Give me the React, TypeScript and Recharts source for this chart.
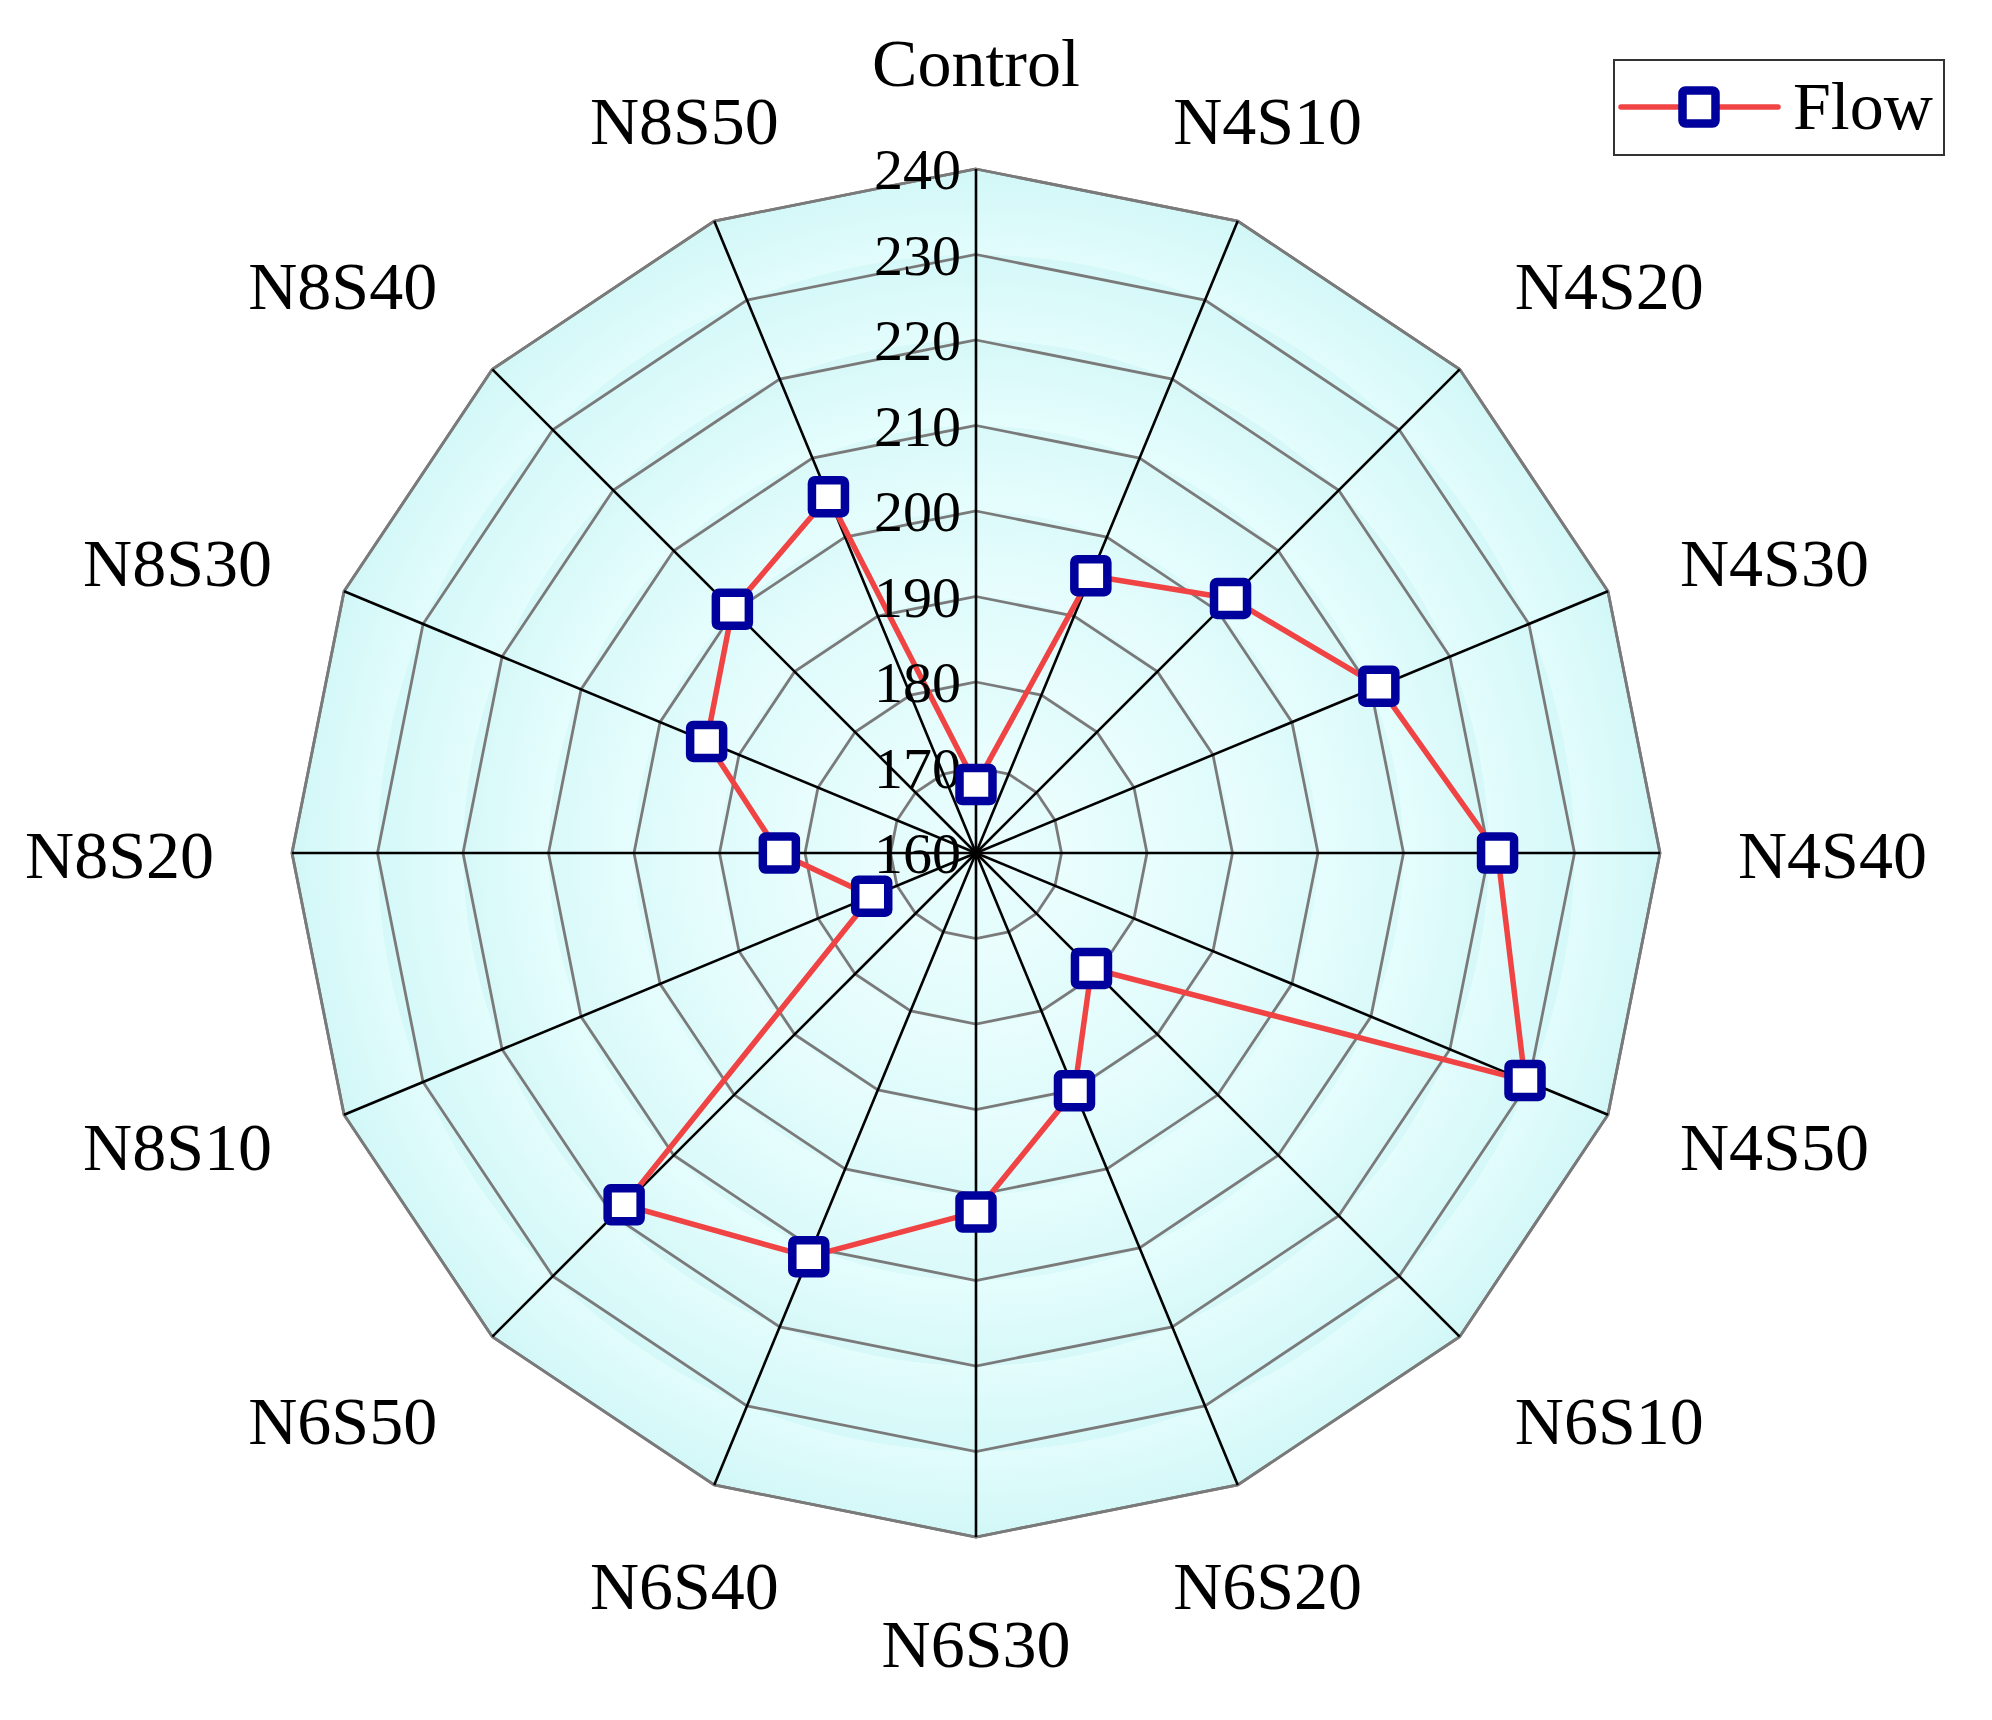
import { RadarChart, Radar, PolarGrid, PolarAngleAxis, PolarRadiusAxis, Legend } from 'recharts';

// treatments around the radar, clockwise from the top
const categories = [
  'Control', 'N4S10', 'N4S20', 'N4S30', 'N4S40', 'N4S50',
  'N6S10', 'N6S20', 'N6S30', 'N6S40', 'N6S50',
  'N8S10', 'N8S20', 'N8S30', 'N8S40', 'N8S50',
];
const flow = [168.0, 195.1, 202.1, 211.0, 221.0, 229.5, 179.1, 190.1, 202.0, 211.1, 218.2, 173.2, 183.0, 194.1, 200.3, 205.1];
const radiusTicks = [160, 170, 180, 190, 200, 210, 220, 230, 240];

const data = categories.map((name, i) => ({ name, flow: flow[i] }));

const W = 1976;
const H = 1704;
const CX = 968;
const CY = 845;
const R = 684;
const FONT = "'Liberation Serif', 'Times New Roman', serif";
const RED = '#F04444';
const BLUE = '#00009C';

// light cyan bands, each a bit darker toward its outer ring
const bandStops = () => {
  const out: any[] = [];
  const n = radiusTicks.length - 1;
  for (let i = 0; i < n; i++) {
    const t = i / (n - 1);
    const mix = (a: number, b: number) => Math.round(a + (b - a) * t);
    const inner = `rgb(${mix(236, 226)},${mix(254, 252)},${mix(254, 252)})`;
    const outer = `rgb(${mix(228, 210)},${mix(252, 247)},${mix(252, 247)})`;
    out.push(<stop key={`a${i}`} offset={i / n} stopColor={inner} />);
    out.push(<stop key={`b${i}`} offset={(i + 1) / n - 0.001} stopColor={outer} />);
  }
  return out;
};

function AngleTick(props: any) {
  const { payload } = props;
  const rad = (payload.coordinate * Math.PI) / 180;
  const r = R + 78;
  const c = Math.cos(rad);
  const s = Math.sin(rad);
  const x = CX + r * c;
  const y = CY - r * s;
  const anchor = Math.abs(c) < 0.5 ? 'middle' : c > 0 ? 'start' : 'end';
  const dy = s > 0.5 ? -5 : s < -0.5 ? 52 : 25;
  return (
    <text x={x} y={y + dy} textAnchor={anchor} fontSize={68} fontFamily={FONT} fill="#000">
      {payload.value}
    </text>
  );
}

function RadiusTick(props: any) {
  const { x, y, payload } = props;
  return (
    <text x={x - 15} y={y + 20} textAnchor="end" fontSize={58} fontFamily={FONT} fill="#000">
      {payload.value}
    </text>
  );
}

function SquareDot(props: any) {
  const { cx, cy } = props;
  if (cx == null || cy == null) return null;
  return <rect x={cx - 16.5} y={cy - 16.5} width={33} height={33} rx={3} fill="#fff" stroke={BLUE} strokeWidth={8.5} />;
}

function FlowLegend() {
  return (
    <svg width={334} height={99}>
      <rect x={1} y={1} width={330} height={95} fill="#fff" stroke="#333" strokeWidth={2} />
      <line x1={8} x2={165} y1={48} y2={48} stroke={RED} strokeWidth={5.5} strokeLinecap="round" />
      <rect x={86 - 16.5} y={48 - 16.5} width={33} height={33} rx={3} fill="#fff" stroke={BLUE} strokeWidth={8.5} />
      <text x={180} y={70} fontSize={68} fontFamily={FONT} fill="#000">Flow</text>
    </svg>
  );
}

export default function App() {
  return (
    <div style={{ position: 'relative', width: W, height: H }}>
      <svg width={0} height={0} style={{ position: 'absolute' }}>
        <defs>
          <radialGradient id="bandFill" gradientUnits="userSpaceOnUse" cx={CX} cy={CY} r={R}>
            {bandStops()}
          </radialGradient>
        </defs>
      </svg>
      <RadarChart width={W} height={H} data={data} cx={CX} cy={CY} outerRadius={R} startAngle={90} endAngle={-270}>
        <PolarGrid gridType="polygon" radialLines={false} stroke="#7a7a7a" strokeWidth={2.8} fill="url(#bandFill)" fillOpacity={1} />
        <PolarGrid gridType="polygon" polarRadius={[]} stroke="#000" strokeWidth={2.6} />
        <PolarAngleAxis dataKey="name" tick={<AngleTick />} tickLine={false} axisLine={false} />
        <PolarRadiusAxis
          angle={90}
          domain={[160, 240]}
          ticks={radiusTicks as any}
          tickCount={9}
          tick={<RadiusTick />}
          axisLine={false}
          tickLine={false}
        />
        <Radar
          name="Flow"
          dataKey="flow"
          stroke={RED}
          strokeWidth={5.5}
          fill="none"
          fillOpacity={0}
          dot={(p: any) => <SquareDot key={p.index} {...p} />}
          isAnimationActive={false}
        />
        <Legend
          content={() => <FlowLegend />}
          wrapperStyle={{ position: 'absolute', left: 1605, top: 51, width: 334, height: 99 }}
        />
      </RadarChart>
    </div>
  );
}
